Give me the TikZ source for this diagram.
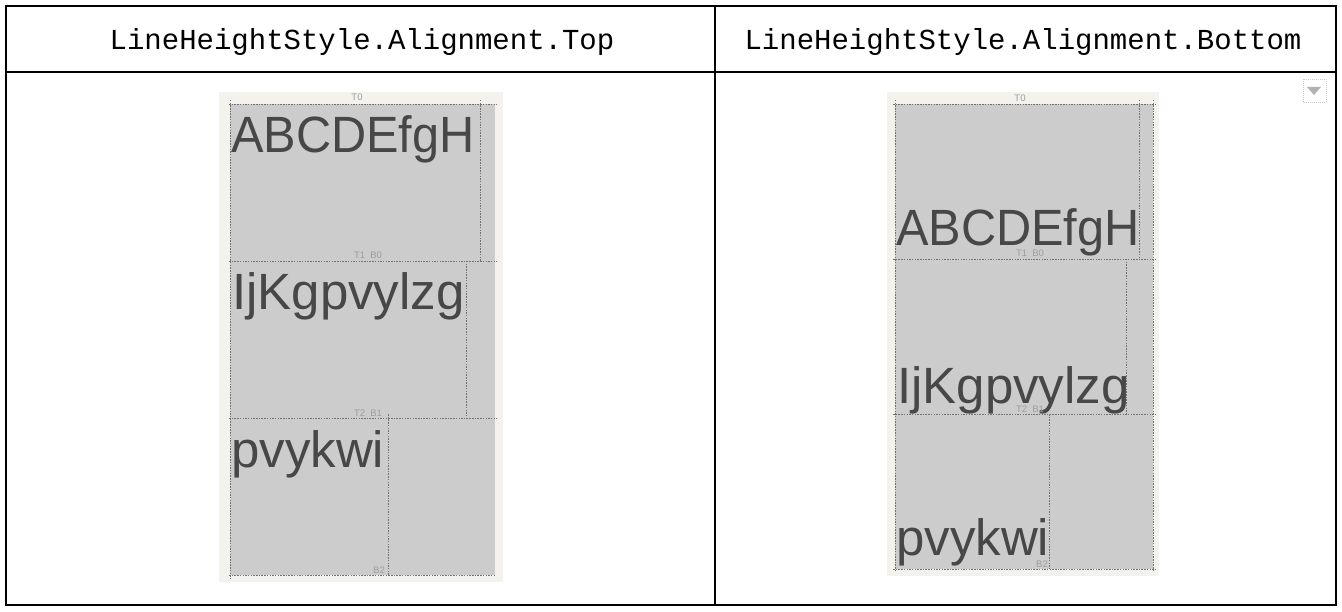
\documentclass[tikz,border=0pt]{standalone}
\usepackage{fontspec}
\setmainfont{Liberation Sans}
\newfontfamily\hdrfont{Liberation Mono}
\begin{document}
\begin{tikzpicture}[x=1pt,y=-1pt,
  frame/.style={draw=black,line width=2.2pt},
  hdr/.style={font=\hdrfont\fontsize{29}{29}\selectfont,inner sep=0pt,anchor=base},
  sample/.style={font=\fontsize{51}{51}\selectfont,text=black!72,inner sep=0pt,anchor=base west},
  guide/.style={draw=black!55,line width=0.7pt,dash pattern=on 1.5pt off 1.2pt},
  tag/.style={font=\fontsize{9.5}{9.5}\selectfont,text=black!38,inner sep=0pt,anchor=base},
  phonebg/.style={fill={rgb,255:red,243;green,242;blue,237}},
  textbg/.style={fill={rgb,255:red,204;green,204;blue,204}}
]
\useasboundingbox (0,0) rectangle (1342,612);
% table frame
\draw[frame] (6,6) rectangle (1336,605);
\draw[frame] (6,72) -- (1336,72);
\draw[frame] (715,6) -- (715,605);
\node[hdr] (h1) at (362,50) {LineHeightStyle.Alignment.Top};
\node[hdr] (h2) at (1023,50) {LineHeightStyle.Alignment.Bottom};

% ---------- left panel (Top) ----------
\fill[phonebg] (219,92) rectangle (503,582);
\fill[textbg] (230,104) rectangle (495,575);
\node[sample] (la) at (231,153) {\scalebox{0.955}[1]{ABCDEfgH}};
\node[sample] (lb) at (232,310) {IjKgpvylzg};
\node[sample] (lc) at (231,467) {pvykwi};
\draw[guide] (229,104) -- (497,104);
\draw[guide] (229,261) -- (497,261);
\draw[guide] (229,418) -- (497,418);
\draw[guide] (229,575) -- (495,575);
\draw[guide] (230,100) -- (230,578);
\draw[guide] (480,100) -- (480,262);
\draw[guide] (466,261) -- (466,418);
\draw[guide] (388,414) -- (388,576);
\node[tag] (lt0) at (357,101) {T0};
\node[tag] (lt1) at (368,259) {T1\ \ B0};
\node[tag] (lt2) at (368,416) {T2\ \ B1};
\node[tag] (lb2) at (379,573) {B2};

% ---------- right panel (Bottom) ----------
\fill[phonebg] (887,92) rectangle (1159,576);
\fill[textbg] (895,104) rectangle (1153,569);
\node[sample] (ra) at (896,246) {\scalebox{0.955}[1]{ABCDEfgH}};
\node[sample] (rb) at (897,403) {IjKgpvylzg};
\node[sample] (rc) at (896,555) {pvykwi};
\draw[guide] (893,104) -- (1155,104);
\draw[guide] (893,259) -- (1155,259);
\draw[guide] (893,414) -- (1155,414);
\draw[guide] (893,569) -- (1155,569);
\draw[guide] (895,100) -- (895,571);
\draw[guide] (1153,100) -- (1153,571);
\draw[guide] (1139,100) -- (1139,260);
\draw[guide] (1126,259) -- (1126,414);
\draw[guide] (1049,414) -- (1049,570);
\node[tag] (rt0) at (1020,102) {T0};
\node[tag] (rt1) at (1030,257) {T1\ \ B0};
\node[tag] (rt2) at (1030,412) {T2\ \ B1};
\node[tag] (rb2) at (1042,567) {B2};

% dropdown icon
\draw[draw=black!20,line width=0.7pt,dash pattern=on 1pt off 1pt] (1303,79) rectangle (1326,102);
\fill[black!30] (1307,87) -- (1321,87) -- (1314,95) -- cycle;
\end{tikzpicture}
\end{document}
